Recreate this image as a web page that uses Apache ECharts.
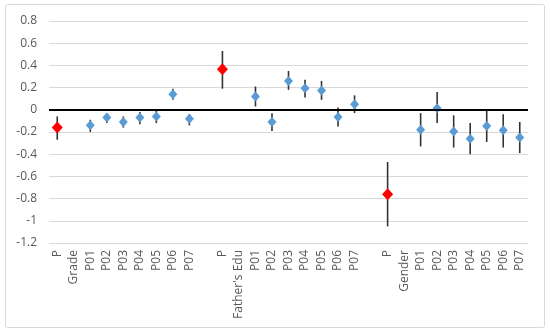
<!DOCTYPE html>
<html><head><meta charset="utf-8">
<script src="https://cdn.jsdelivr.net/npm/echarts@6/dist/echarts.min.js"></script>
<style>html,body{margin:0;padding:0;background:#fff}#c{width:550px;height:334px}</style>
</head><body><div id="c"></div>
<script>
var categories = ['P','Grade','P01','P02','P03','P04','P05','P06','P07','',
  'P',"Father's Edu",'P01','P02','P03','P04','P05','P06','P07','',
  'P','Gender','P01','P02','P03','P04','P05','P06','P07'];
var estimates = [-0.16,null,-0.14,-0.07,-0.11,-0.07,-0.06,0.14,-0.08,null,
  0.365,null,0.12,-0.11,0.26,0.195,0.175,-0.065,0.05,null,
  -0.76,null,-0.18,0.015,-0.195,-0.26,-0.145,-0.185,-0.25];
var lower = [-0.27,null,-0.20,-0.12,-0.16,-0.13,-0.12,0.09,-0.14,null,
  0.19,null,0.03,-0.19,0.18,0.11,0.09,-0.15,-0.03,null,
  -1.05,null,-0.33,-0.12,-0.34,-0.40,-0.29,-0.34,-0.39];
var upper = [-0.06,null,-0.09,-0.03,-0.06,-0.02,-0.01,0.19,-0.04,null,
  0.53,null,0.21,-0.03,0.35,0.27,0.26,0.02,0.13,null,
  -0.47,null,-0.03,0.16,-0.05,-0.12,-0.01,-0.04,-0.11];
var yTicks = {min:-1.2, max:0.8, step:0.2};

var blue = [], red = [], bars = [];
for (var i = 0; i < categories.length; i++) {
  if (estimates[i] == null) continue;
  if (categories[i] === 'P') red.push([i, estimates[i]]);
  else blue.push([i, estimates[i]]);
  bars.push([i, lower[i], upper[i]]);
}
var font = 'Open Sans, Liberation Sans, sans-serif';
var chart = echarts.init(document.getElementById('c'), null, {renderer:'canvas'});
chart.setOption({
  animation:false,
  backgroundColor:'#fff',
  graphic:[{type:'rect', shape:{x:5.5,y:4.5,width:539,height:323,r:2}, style:{fill:'none',stroke:'#d9d9d9',lineWidth:1}, z:-10}],
  grid:{left:49,right:22,top:21,bottom:91},
  xAxis:{type:'category',data:categories,boundaryGap:true,
    axisLine:{show:false},axisTick:{show:false},splitLine:{show:false},
    axisLabel:{interval:0,rotate:90,color:'#595959',fontSize:12,fontFamily:font,margin:7}},
  yAxis:{type:'value',min:yTicks.min,max:yTicks.max,interval:yTicks.step,
    axisLine:{show:false},axisTick:{show:false},
    splitLine:{lineStyle:{color:'#d9d9d9',width:1}},
    axisLabel:{color:'#595959',fontSize:12,fontFamily:font,margin:12}},
  series:[
    {type:'custom',data:bars,z:2,
     encode:{x:0,y:[1,2]},
     renderItem:function(params,api){
       var x = api.value(0);
       var p1 = api.coord([x, api.value(1)]);
       var p2 = api.coord([x, api.value(2)]);
       return {type:'line',shape:{x1:p1[0],y1:p1[1],x2:p2[0],y2:p2[1]},
         style:{stroke:'#333333',lineWidth:1.6}};
     },
     markLine:{silent:true,symbol:'none',label:{show:false},
       lineStyle:{color:'#000',width:2,type:'solid'},data:[{yAxis:0}]}},
    {type:'scatter',data:blue,symbol:'diamond',symbolSize:[9,10],z:3,
     itemStyle:{color:'#5B9BD5',opacity:1}},
    {type:'scatter',data:red,symbol:'diamond',symbolSize:[11,12],z:4,
     itemStyle:{color:'#FF0000',opacity:1}}
  ]
});
</script></body></html>
